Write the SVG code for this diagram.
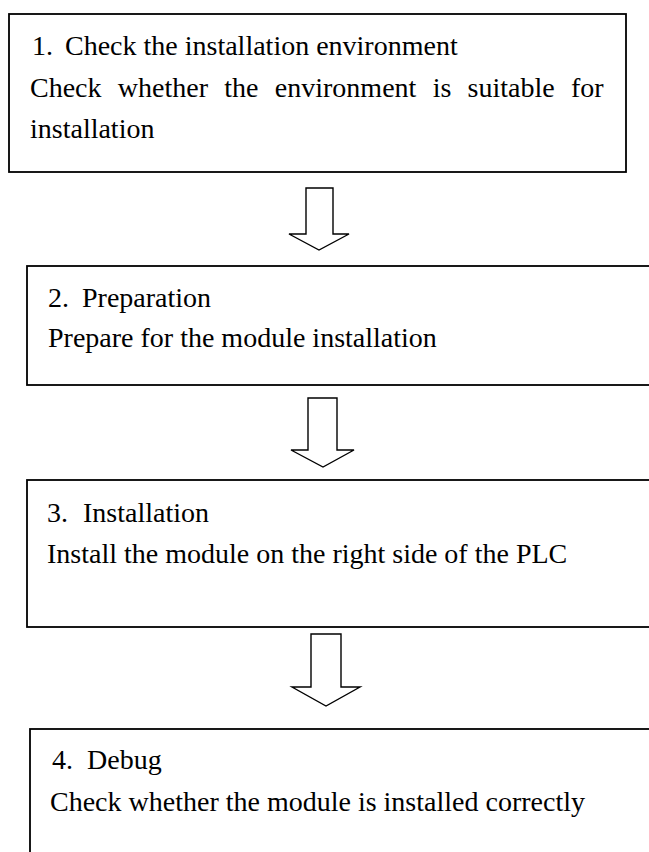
<svg xmlns="http://www.w3.org/2000/svg" width="649" height="852" viewBox="0 0 649 852">
<style>
.box{fill:#ffffff;stroke:#000000;stroke-width:1.8}
.arr{fill:#ffffff;stroke:#000000;stroke-width:1.4;stroke-linejoin:miter}
.t{font-family:"Liberation Serif","Times New Roman",serif;font-size:28px;fill:#000000}
</style>
<rect width="649" height="852" fill="#ffffff"/>
<g id="node1">
<rect class="box" x="9" y="14" width="617" height="158"/>
<text class="t" x="32" y="55">1. <tspan x="65">Check the installation environment</tspan></text>
<text class="t" x="30" y="97" word-spacing="9.3">Check whether the environment is suitable for</text>
<text class="t" x="30" y="138">installation</text>
</g>
<g id="node2">
<rect class="box" x="27" y="266" width="640" height="119"/>
<text class="t" x="48" y="307">2. <tspan x="82">Preparation</tspan></text>
<text class="t" x="48" y="347">Prepare for the module installation</text>
</g>
<g id="node3">
<rect class="box" x="27" y="480" width="640" height="147"/>
<text class="t" x="47" y="522">3. <tspan x="83">Installation</tspan></text>
<text class="t" x="47" y="563">Install the module on the right side of the PLC</text>
</g>
<g id="node4">
<rect class="box" x="30" y="729" width="640" height="140"/>
<text class="t" x="52" y="769">4. <tspan x="87">Debug</tspan></text>
<text class="t" x="50" y="811">Check whether the module is installed correctly</text>
</g>
<g id="connectors">
<polygon class="arr" points="306,188 333,188 333,234 349,234 319,250 289,234 306,234"/>
<polygon class="arr" points="308,398 337,398 337,450 354,450 323,467 291,450 308,450"/>
<polygon class="arr" points="311,634 341,634 341,687 360,687 326,706 292,687 311,687"/>
</g>
</svg>
